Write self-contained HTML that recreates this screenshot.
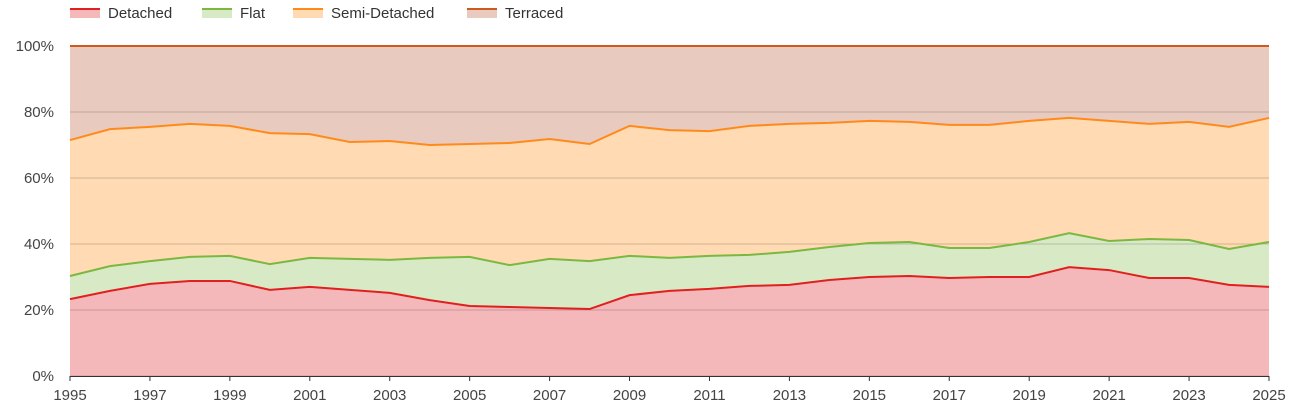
<!DOCTYPE html>
<html><head><meta charset="utf-8"><style>
html,body{margin:0;padding:0;background:#fff}
svg{display:block;font-family:"Liberation Sans",sans-serif}
</style></head><body>
<svg id="chart" width="1305" height="410"></svg>
<script>
const years=[1995,1996,1997,1998,1999,2000,2001,2002,2003,2004,2005,2006,2007,2008,2009,2010,2011,2012,2013,2014,2015,2016,2017,2018,2019,2020,2021,2022,2023,2024,2025];
const detached=[23.3,25.8,27.9,28.8,28.8,26.1,27.0,26.1,25.2,23.0,21.2,20.9,20.6,20.3,24.5,25.8,26.4,27.3,27.6,29.1,30.0,30.3,29.7,30.0,30.0,33.0,32.1,29.7,29.7,27.6,27.0];
const flat=[7.0,7.5,6.9,7.3,7.6,7.8,8.8,9.4,10.0,12.8,14.9,12.7,14.9,14.5,11.9,10.0,10.0,9.4,10.0,10.0,10.3,10.3,9.1,8.8,10.6,10.3,8.8,11.8,11.5,10.9,13.6];
const semi=[41.2,41.5,40.7,40.3,39.4,39.7,37.5,35.4,36.0,34.2,34.2,37.0,36.3,35.5,39.4,38.7,37.8,39.1,38.8,37.6,37.0,36.4,37.3,37.3,36.7,34.9,36.4,34.9,35.8,37.0,37.6];
const terraced=[28.5,25.2,24.5,23.6,24.2,26.4,26.7,29.1,28.8,30.0,29.7,29.4,28.2,29.7,24.2,25.5,25.8,24.2,23.6,23.3,22.7,23.0,23.9,23.9,22.7,21.8,22.7,23.6,23.0,24.5,21.8];
const yTicks=[0,20,40,60,80,100];
const xTickYears=[1995,1997,1999,2001,2003,2005,2007,2009,2011,2013,2015,2017,2019,2021,2023,2025];
const seriesNames=["Detached","Flat","Semi-Detached","Terraced"];

const NS="http://www.w3.org/2000/svg";
const svg=document.getElementById("chart");
const L=70,R=1269,T=46,B=376;
const x=v=>L+(v-years[0])/(years[years.length-1]-years[0])*(R-L);
const y=v=>B-v/100*(B-T);
function mk(tag,attrs,parent){const e=document.createElementNS(NS,tag);for(const k in attrs)e.setAttribute(k,attrs[k]);(parent||svg).appendChild(e);return e;}

const styles=[
 {line:"#e0201f",fill:"#f5b8ba"},
 {line:"#7bb840",fill:"#d8e9c6"},
 {line:"#ff8a1c",fill:"#ffdab3"},
 {line:"#d05a1e",fill:"#e8cbbe"}];
const data=[detached,flat,semi,terraced];
const slugs=["detached","flat","semi-detached","terraced"];

// cumulative
const cum=[];let prev=years.map(()=>0);
data.forEach(s=>{const c=s.map((v,i)=>{const tot=detached[i]+flat[i]+semi[i]+terraced[i];return prev[i]+v/tot*100;});cum.push({lo:prev,hi:c});prev=c;});

// areas
cum.forEach((c,k)=>{
  let d="M"+years.map((yr,i)=>x(yr)+","+y(c.hi[i])).join("L");
  for(let i=years.length-1;i>=0;i--)d+="L"+x(years[i])+","+y(c.lo[i]);
  const a=mk("path",{d:d+"Z",fill:styles[k].fill,stroke:"none"});
  
  
});
// grid
yTicks.forEach(t=>{
  const g=mk("line",{x1:L,x2:R,y1:y(t),y2:y(t),stroke:"#000","stroke-opacity":0.18,"stroke-width":1});
  
  
  const tx=mk("text",{x:L-16,y:y(t)+5,"text-anchor":"end","font-size":15,fill:"#444"});
  tx.textContent=t+"%";
  
  
});
// lines
cum.forEach((c,k)=>{
  const p=mk("polyline",{points:years.map((yr,i)=>x(yr)+","+y(c.hi[i])).join(" "),fill:"none",stroke:styles[k].line,"stroke-width":2});
  
  
});
// x axis
const ax=mk("line",{x1:L,x2:R,y1:B+0.5,y2:B+0.5,stroke:"#333","stroke-width":1});


xTickYears.forEach(yr=>{
  const tk=mk("line",{x1:x(yr),x2:x(yr),y1:B,y2:B+5,stroke:"#333"});
  
  
  const tx=mk("text",{x:x(yr),y:B+24,"text-anchor":"middle","font-size":15,fill:"#444"});
  tx.textContent=yr;
  
  
});
// legend
const legX=[70,202,293,467];
seriesNames.forEach((n,k)=>{
  const g=mk("g",{});
  
  
  mk("rect",{x:legX[k],y:8,width:30,height:10,fill:styles[k].fill},g);
  mk("line",{x1:legX[k],x2:legX[k]+30,y1:9,y2:9,stroke:styles[k].line,"stroke-width":2},g);
  const t=mk("text",{x:legX[k]+38,y:18,"font-size":15,fill:"#333"},g);
  t.textContent=n;
});
</script>
</body></html>
